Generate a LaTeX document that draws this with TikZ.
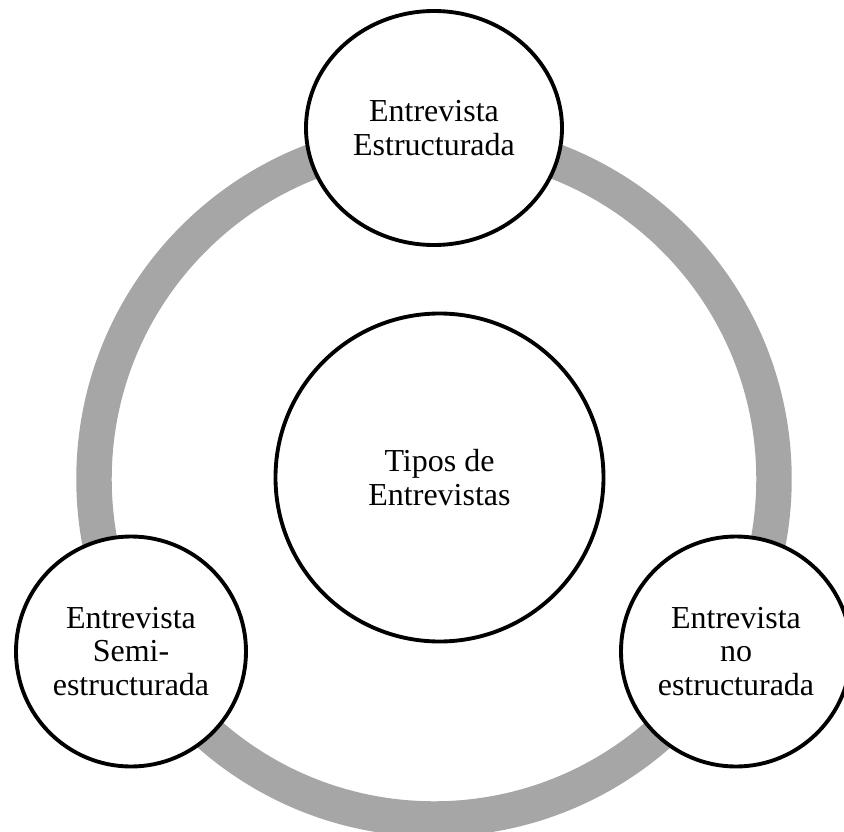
\documentclass[tikz,border=0pt]{standalone}
\usepackage{fontspec}
\setmainfont{Liberation Serif}
\usepackage{tikz}
\usetikzlibrary{shapes.geometric}
\definecolor{gris}{HTML}{A6A6A6}
\tikzstyle{tipo} = [draw=black, line width=2.9pt, circle, fill=white, align=center, inner sep=0pt, minimum size=172.5pt, font=\fontsize{24}{25}\selectfont]
\tikzstyle{anillo} = [draw=gris, line width=26.6pt]

\begin{document}
\begin{tikzpicture}[x=0.75pt, y=-0.75pt]
    \useasboundingbox (0,0) rectangle (844,832);
    \clip (0,0) rectangle (844,832);
    \coordinate (eje) at (434,479);
    \draw [anillo] (eje) circle [radius=255pt];
    \node [tipo, minimum size=246pt] (centro) at (439.5,477.5) {Tipos de\\Entrevistas};
    \node [tipo, ellipse, minimum width=192pt, minimum height=175.5pt] (estructurada) at (434,128) {Entrevista\\Estructurada};
    \node [tipo] (semi) at (131,651.5) {Entrevista\\Semi-\\estructurada};
    \node [tipo] (noestructurada) at (736,651.5) {Entrevista\\no\\estructurada};
\end{tikzpicture}
\end{document}
